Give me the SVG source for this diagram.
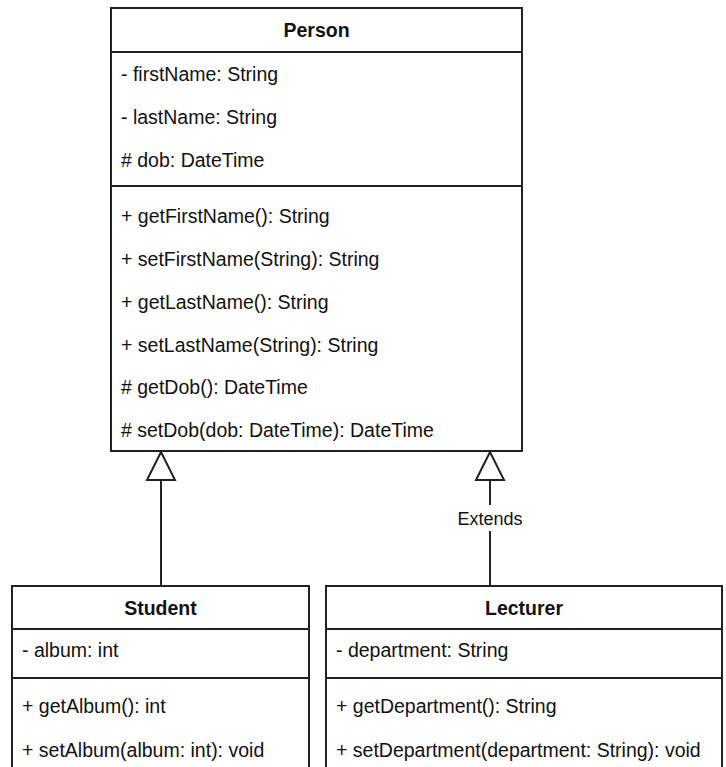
<svg xmlns="http://www.w3.org/2000/svg" width="726" height="767" viewBox="0 0 726 767">
  <style>
    .box { fill: #ffffff; stroke: #222222; stroke-width: 2; }
    .sep { stroke: #222222; stroke-width: 2; }
    .title { font-family: "Liberation Sans", Arial, sans-serif; font-size: 19.5px; font-weight: bold; fill: #111111; text-anchor: middle; }
    .item { font-family: "Liberation Sans", Arial, sans-serif; font-size: 19.5px; fill: #111111; }
    .edge { fill: none; stroke: #222222; stroke-width: 2; }
    .label { font-family: "Liberation Sans", Arial, sans-serif; font-size: 18px; fill: #111111; text-anchor: middle; }
  </style>
  <defs>
    <!-- hollow triangle for generalization -->
    <marker id="inherit" markerUnits="userSpaceOnUse" markerWidth="32" markerHeight="32" viewBox="0 0 32 32" refX="30" refY="16" orient="auto">
      <path d="M2,2 L30,16 L2,30 Z" fill="#ffffff" stroke="#222222" stroke-width="2"/>
    </marker>
  </defs>

  <rect width="726" height="767" fill="#ffffff"/>

  <!-- connectors -->
  <g id="connectors">
    <path class="edge" d="M161,586 L161,452" marker-end="url(#inherit)"/>
    <path class="edge" d="M490,586 L490,452" marker-end="url(#inherit)"/>
    <rect x="456" y="505" width="68" height="26" fill="#ffffff"/>
    <text class="label" x="490" y="525">Extends</text>
  </g>

  <!-- Person class -->
  <g id="person">
    <rect class="box" x="111" y="8" width="411" height="443"/>
    <line class="sep" x1="111" y1="52" x2="522" y2="52"/>
    <line class="sep" x1="111" y1="186" x2="522" y2="186"/>
    <text class="title" x="316.5" y="37">Person</text>
    <text class="item" x="121" y="81">- firstName: String</text>
    <text class="item" x="121" y="124">- lastName: String</text>
    <text class="item" x="121" y="167"># dob: DateTime</text>
    <text class="item" x="121" y="223">+ getFirstName(): String</text>
    <text class="item" x="121" y="266">+ setFirstName(String): String</text>
    <text class="item" x="121" y="309">+ getLastName(): String</text>
    <text class="item" x="121" y="352">+ setLastName(String): String</text>
    <text class="item" x="121" y="394"># getDob(): DateTime</text>
    <text class="item" x="121" y="437"># setDob(dob: DateTime): DateTime</text>
  </g>

  <!-- Student class -->
  <g id="student">
    <rect class="box" x="12" y="586" width="297" height="210"/>
    <line class="sep" x1="12" y1="629" x2="309" y2="629"/>
    <line class="sep" x1="12" y1="678" x2="309" y2="678"/>
    <text class="title" x="160.5" y="615">Student</text>
    <text class="item" x="22" y="657">- album: int</text>
    <text class="item" x="22" y="713">+ getAlbum(): int</text>
    <text class="item" x="22" y="757">+ setAlbum(album: int): void</text>
  </g>

  <!-- Lecturer class -->
  <g id="lecturer">
    <rect class="box" x="326" y="586" width="396" height="210"/>
    <line class="sep" x1="326" y1="629" x2="722" y2="629"/>
    <line class="sep" x1="326" y1="678" x2="722" y2="678"/>
    <text class="title" x="524" y="615">Lecturer</text>
    <text class="item" x="336" y="657">- department: String</text>
    <text class="item" x="336" y="713">+ getDepartment(): String</text>
    <text class="item" x="336" y="757">+ setDepartment(department: String): void</text>
  </g>
</svg>
